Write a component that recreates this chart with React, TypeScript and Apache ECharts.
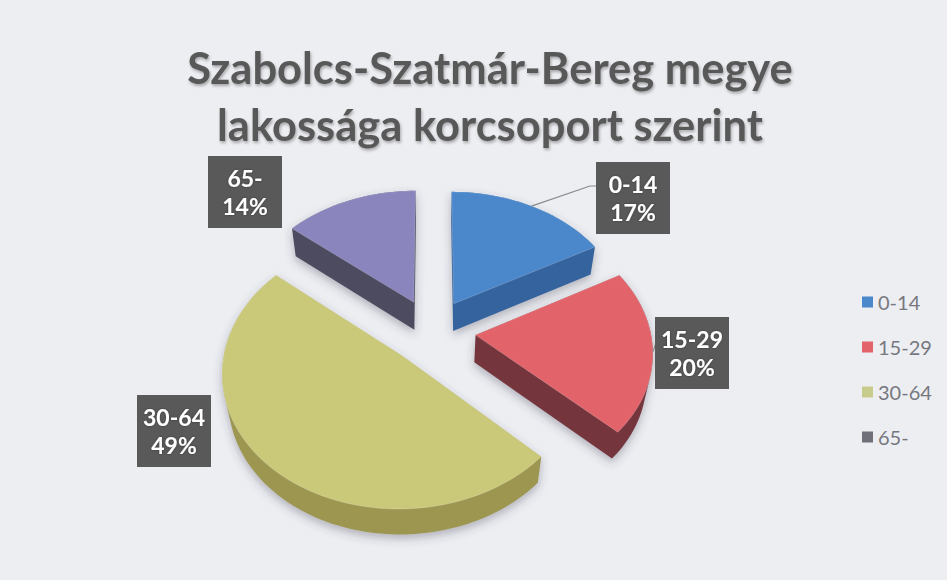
import React, { useEffect, useRef } from "react";
import * as echarts from "echarts";

const TITLE = "Szabolcs-Szatmár-Bereg megye\nlakossága korcsoport szerint";
const CATEGORIES = ["0-14", "15-29", "30-64", "65-"];
const VALUES = [17, 20, 49, 14];

const TOP_COLORS = ["#4a87cb", "#e2636a", "#cac97a", "#8a85bd"];
const SIDE_COLORS = ["#34639e", "#74363d", "#9c9651", "#4d4c60"];
const LEGEND_COLORS = ["#4a87cb", "#e2636a", "#c7cc8c", "#6f7079"];

// label box centres (px) and leader line end points
const LABEL_POS = [[633, 198], [692, 353], [174, 431], [245, 192]];
const LEADER_END: (number[] | null)[] = [[590, 186], [657, 340], null, null];

// projection of the tilted 3D pie
const CX = 432;
const CY = 331;
const F = 1050;
const DIST = 6;
const PHI = (48 * Math.PI) / 180;
const EXPLODE = 0.25;
const THICK = 0.24;

const TOTAL = VALUES.reduce((a, b) => a + b, 0);
const STARTS: number[] = [];
{
  let acc = 0;
  for (const v of VALUES) {
    STARTS.push((acc / TOTAL) * 360);
    acc += v;
  }
}

function project(X: number, Y: number, Z: number): number[] {
  const up = Y * Math.cos(PHI) - Z * Math.sin(PHI);
  const depth = DIST - (Y * Math.sin(PHI) + Z * Math.cos(PHI));
  return [CX + (F * X) / depth, CY - (F * up) / depth];
}

function hull(pts: number[][]): number[][] {
  const p = pts.slice().sort((a, b) => (a[0] - b[0]) || (a[1] - b[1]));
  const cross = (o: number[], a: number[], b: number[]) =>
    (a[0] - o[0]) * (b[1] - o[1]) - (a[1] - o[1]) * (b[0] - o[0]);
  const lower: number[][] = [];
  for (const q of p) {
    while (lower.length >= 2 && cross(lower[lower.length - 2], lower[lower.length - 1], q) <= 0) lower.pop();
    lower.push(q);
  }
  const upper: number[][] = [];
  for (let i = p.length - 1; i >= 0; i--) {
    const q = p[i];
    while (upper.length >= 2 && cross(upper[upper.length - 2], upper[upper.length - 1], q) <= 0) upper.pop();
    upper.push(q);
  }
  upper.pop();
  lower.pop();
  return lower.concat(upper);
}

function renderSlice(params: any, api: any) {
  const value = api.value(0);
  const idx = api.value(1);
  const a = (STARTS[idx] * Math.PI) / 180;
  const b = a + (value / TOTAL) * 2 * Math.PI;
  const m = (a + b) / 2;
  const ox = EXPLODE * Math.sin(m);
  const oz = -EXPLODE * Math.cos(m);
  const steps = Math.max(4, Math.ceil(((b - a) * 180) / Math.PI / 2));
  const top: number[][] = [project(ox, 0, oz)];
  const bottom: number[][] = [project(ox, -THICK, oz)];
  for (let i = 0; i <= steps; i++) {
    const t = a + ((b - a) * i) / steps;
    const X = ox + Math.sin(t);
    const Z = oz - Math.cos(t);
    top.push(project(X, 0, Z));
    bottom.push(project(X, -THICK, Z));
  }
  const side = hull(top.concat(bottom));
  const children: any[] = [
    {
      type: "polygon",
      shape: { points: side },
      style: {
        fill: SIDE_COLORS[idx],
        shadowBlur: 10,
        shadowColor: "rgba(60,60,80,0.35)",
        shadowOffsetY: 4,
      },
    },
    {
      type: "polygon",
      shape: { points: top },
      style: { fill: TOP_COLORS[idx], stroke: "rgba(255,255,255,0.25)", lineWidth: 0.8 },
    },
  ];
  const end = LEADER_END[idx];
  if (end) {
    const rim = project(ox + Math.sin(m), 0, oz - Math.cos(m));
    children.push({
      type: "polyline",
      shape: { points: [rim, end, [LABEL_POS[idx][0] - 34, end[1]]] },
      style: { stroke: "#8a8a8a", lineWidth: 1.2, fill: "none" },
    });
  }
  const lp = LABEL_POS[idx];
  children.push({
    type: "text",
    x: lp[0],
    y: lp[1],
    z2: 50,
    style: {
      text: `${CATEGORIES[idx]}\n${value}%`,
      fill: "#ffffff",
      fontFamily: "Lato",
      fontWeight: "bold",
      fontSize: 23,
      lineHeight: 28,
      width: 56,
      align: "center",
      verticalAlign: "middle",
      backgroundColor: "#595959",
      padding: [8, 9],
      textShadowColor: "rgba(0,0,0,0.4)",
      textShadowBlur: 2,
    },
  });
  return { type: "group", children };
}

export default function App() {
  const ref = useRef<HTMLDivElement>(null);
  useEffect(() => {
    document.body.style.margin = "0";
    const chart = echarts.init(ref.current!, undefined, { renderer: "svg" });
    const fronts = VALUES.map((v, i) => {
      const mid = ((STARTS[i] + (v / TOTAL) * 180) * Math.PI) / 180;
      return -Math.cos(mid);
    });
    const order = fronts.map((f, i) => i).sort((p, q) => fronts[p] - fronts[q]);
    const series = CATEGORIES.map((name, i) => ({
      type: "custom",
      name,
      coordinateSystem: "none",
      data: [[VALUES[i], i]],
      itemStyle: { color: TOP_COLORS[i] },
      z: 2 + order.indexOf(i),
      renderItem: renderSlice,
      silent: true,
    }));
    chart.setOption({
      animation: false,
      backgroundColor: "#edeef2",
      title: {
        text: TITLE,
        left: 485,
        textAlign: "center",
        top: 33,
        textStyle: {
          fontFamily: "Lato",
          fontWeight: "bold",
          fontSize: 43.5,
          lineHeight: 57,
          color: "#595959",
          textShadowColor: "rgba(0,0,0,0.3)",
          textShadowBlur: 3,
          textShadowOffsetX: 1,
          textShadowOffsetY: 2,
        },
      },
      legend: {
        orient: "vertical",
        left: 857,
        top: 286,
        icon: "rect",
        itemWidth: 11,
        itemHeight: 11,
        itemGap: 23,
        textStyle: { fontFamily: "Lato", fontSize: 20, color: "#77787f", lineHeight: 22 },
        data: CATEGORIES.map((name, i) => ({ name, itemStyle: { color: LEGEND_COLORS[i] } })),
      },
      series,
    });
    return () => chart.dispose();
  }, []);
  return <div ref={ref} style={{ width: 947, height: 580 }} />;
}
